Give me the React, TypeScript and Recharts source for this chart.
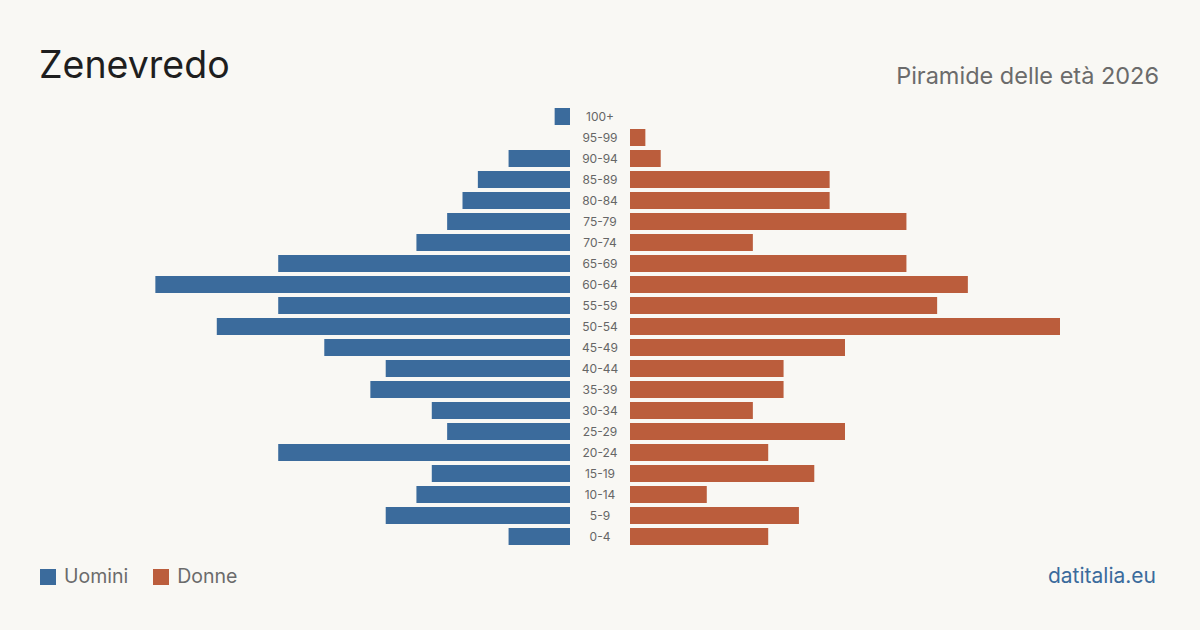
import React from 'react';
import { BarChart, Bar, XAxis, YAxis } from 'recharts';

const AGE_GROUPS = [
  '100+', '95-99', '90-94', '85-89', '80-84', '75-79', '70-74', '65-69', '60-64', '55-59',
  '50-54', '45-49', '40-44', '35-39', '30-34', '25-29', '20-24', '15-19', '10-14', '5-9', '0-4',
];
const MALES = [1, 0, 4, 6, 7, 8, 10, 19, 27, 19, 23, 16, 12, 13, 9, 8, 19, 9, 10, 12, 4];
const FEMALES = [0, 1, 2, 13, 13, 18, 8, 18, 22, 20, 28, 14, 10, 10, 8, 14, 9, 12, 5, 11, 9];

const MAX = 28;
const BLUE = '#3b6b9c';
const ORANGE = '#bb5d3c';
const BG = '#f9f8f4';
const FONT = 'Inter, "Noto Sans", sans-serif';

const rows = AGE_GROUPS.map((age, i) => ({ age, m: MALES[i], f: FEMALES[i] }));

const CenterTick = (props: any) => (
  <text x={30} y={props.y} dy={4} textAnchor="middle" fontSize={12} fill="#666" fontFamily={FONT}>
    {props.payload.value}
  </text>
);

export default function App() {
  return (
    <div style={{ position: 'absolute', left: 0, top: 0, width: 1200, height: 630, background: BG, fontFamily: FONT, overflow: 'hidden' }}>
      <div style={{ position: 'absolute', left: 39, top: 46, fontSize: 37.5, color: '#1e1e1e', lineHeight: 1 }}>Zenevredo</div>
      <div style={{ position: 'absolute', right: 41, top: 64, fontSize: 23.5, color: '#6b6b6b', lineHeight: 1 }}>
        Piramide delle età 2026
      </div>

      <div style={{ position: 'absolute', left: 140, top: 105.5 }}>
        <BarChart width={430} height={441} data={rows} layout="vertical" margin={{ top: 0, right: 0, bottom: 0, left: 0 }}>
          <XAxis type="number" domain={[0, MAX]} reversed hide />
          <YAxis type="category" dataKey="age" hide />
          <Bar dataKey="m" fill={BLUE} barSize={17} isAnimationActive={false} />
        </BarChart>
      </div>

      <div style={{ position: 'absolute', left: 570, top: 105.5 }}>
        <BarChart width={490} height={441} data={rows} layout="vertical" margin={{ top: 0, right: 0, bottom: 0, left: 0 }}>
          <XAxis type="number" domain={[0, MAX]} hide />
          <YAxis
            type="category"
            dataKey="age"
            width={60}
            interval={0}
            axisLine={false}
            tickLine={false}
            tick={<CenterTick />}
          />
          <Bar dataKey="f" fill={ORANGE} barSize={17} isAnimationActive={false} />
        </BarChart>
      </div>

      <div style={{ position: 'absolute', left: 40, top: 567, display: 'flex', alignItems: 'center', fontSize: 19.5, color: '#6b6b6b', lineHeight: 1 }}>
        <span style={{ width: 16, height: 16, background: BLUE, display: 'inline-block', marginRight: 8 }} />
        <span style={{ marginRight: 25 }}>Uomini</span>
        <span style={{ width: 16, height: 16, background: ORANGE, display: 'inline-block', marginRight: 8 }} />
        <span>Donne</span>
      </div>
      <div style={{ position: 'absolute', right: 44, top: 565, fontSize: 21, color: '#3b6b9c', lineHeight: 1 }}>datitalia.eu</div>
    </div>
  );
}
